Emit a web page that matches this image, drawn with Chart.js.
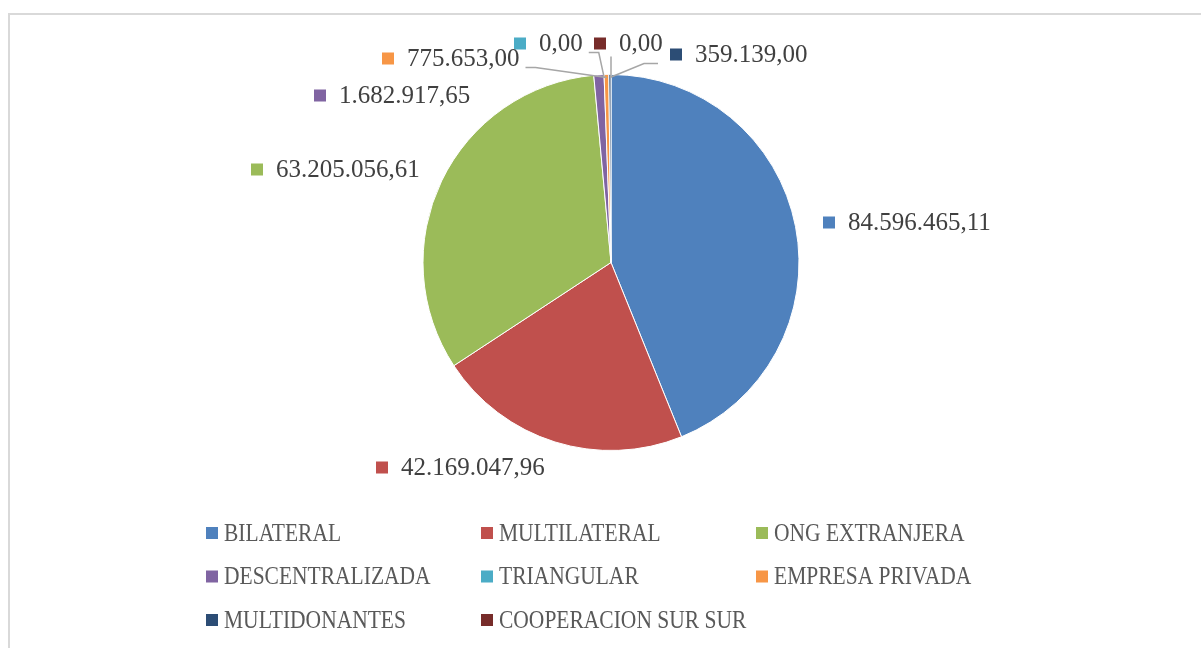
<!DOCTYPE html>
<html>
<head>
<meta charset="utf-8">
<script src="https://cdn.jsdelivr.net/npm/chart.js@4"></script>
<style>
  body { margin: 0; background: #fff; }
  #wrap { width: 1201px; height: 648px; position: relative; }
</style>
</head>
<body>
<div id="wrap"><canvas id="myChart"></canvas></div>
<script>
// Data
const categories = ['BILATERAL', 'MULTILATERAL', 'ONG EXTRANJERA', 'DESCENTRALIZADA',
    'TRIANGULAR', 'EMPRESA PRIVADA', 'MULTIDONANTES', 'COOPERACION SUR SUR'];
const amounts = [84596465.11, 42169047.96, 63205056.61, 1682917.65, 0, 775653.00, 359139.00, 0];
const colors = ['#4F81BD', '#C0504D', '#9BBB59', '#8064A2', '#4BACC6', '#F79646', '#2C4D75', '#772C2A'];

// Where each data label sits, relative to the pie centre: [dx, dy, leader line?]
const labelSpots = [
    [212, -40, false],
    [-235, 205, false],
    [-360, -93, false],
    [-297, -167, false],
    [-97, -219, true],
    [-229, -204, true],
    [59, -208, true],
    [-17, -219, true]
];

// 84596465.11 -> 84.596.465,11
const fmt = v => {
    const [i, d] = v.toFixed(2).split('.');
    return i.replace(/\B(?=(\d{3})+(?!\d))/g, '.') + ',' + d;
};

// Light grey frame round the chart
const framePlugin = {
    id: 'frame',
    beforeDraw(chart) {
        const c = chart.ctx;
        c.save();
        c.strokeStyle = '#d9d9d9';
        c.lineWidth = 2;
        c.strokeRect(9, 14, 1400, 800);
        c.restore();
    }
};

// Data labels with small colour keys and leader lines
const labelPlugin = {
    id: 'pieLabels',
    afterDatasetsDraw(chart) {
        const c = chart.ctx;
        const meta = chart.getDatasetMeta(0);
        const cx = meta.data[0].x, cy = meta.data[0].y, r = meta.data[0].outerRadius;
        c.save();
        c.font = '25px "Liberation Serif", serif';
        c.textBaseline = 'middle';
        meta.data.forEach((arc, i) => {
            const [dx, dy, leader] = labelSpots[i];
            const mx = cx + dx, my = cy + dy;
            const txt = fmt(amounts[i]);
            const tx = mx + 25;
            const tw = c.measureText(txt).width;
            c.fillStyle = colors[i];
            c.fillRect(mx, my - 6, 12, 12);
            c.fillStyle = '#404040';
            c.fillText(txt, tx, my + 1);
            if (leader) {
                const mid = (arc.startAngle + arc.endAngle) / 2;
                const gx = cx + (r - 3) * Math.cos(mid), gy = cy + (r - 3) * Math.sin(mid);
                c.strokeStyle = '#a6a6a6';
                c.lineWidth = 1.5;
                c.beginPath();
                if (gx > tx + tw) {
                    c.moveTo(tx + tw + 6, my + 9);
                    c.lineTo(tx + tw + 16, my + 9);
                } else if (gx < mx) {
                    c.moveTo(mx - 12, my + 9);
                    c.lineTo(mx - 26, my + 9);
                } else {
                    c.moveTo(gx, my + 13);
                }
                c.lineTo(gx, gy);
                c.stroke();
            }
        });
        c.restore();
    }
};

// Legend in three columns below the pie
const legendPlugin = {
    id: 'gridLegend',
    afterDraw(chart) {
        const c = chart.ctx;
        c.save();
        c.font = '25px "Liberation Serif", serif';
        c.textBaseline = 'middle';
        categories.forEach((name, i) => {
            const x = 206 + (i % 3) * 275;
            const y = 533 + Math.floor(i / 3) * 43.5;
            c.fillStyle = colors[i];
            c.fillRect(x, y - 6, 12, 12);
            c.fillStyle = '#595959';
            c.save();
            c.translate(x + 18, y + 1);
            c.scale(0.86, 1);
            c.fillText(name, 0, 0);
            c.restore();
        });
        c.restore();
    }
};

const ctx = document.getElementById('myChart');
new Chart(ctx, {
    type: 'pie',
    data: {
        labels: categories,
        datasets: [{
            data: amounts,
            backgroundColor: colors,
            borderColor: '#ffffff',
            borderWidth: 1,
        }]
    },
    options: {
        responsive: true,
        maintainAspectRatio: false,
        animation: false,
        plugins: {
            legend: { display: false },
            tooltip: { enabled: false }
        },
        layout: {
            padding: { left: 21, right: 0, top: 74, bottom: 197 }
        }
    },
    plugins: [framePlugin, labelPlugin, legendPlugin]
});
</script>
</body>
</html>
